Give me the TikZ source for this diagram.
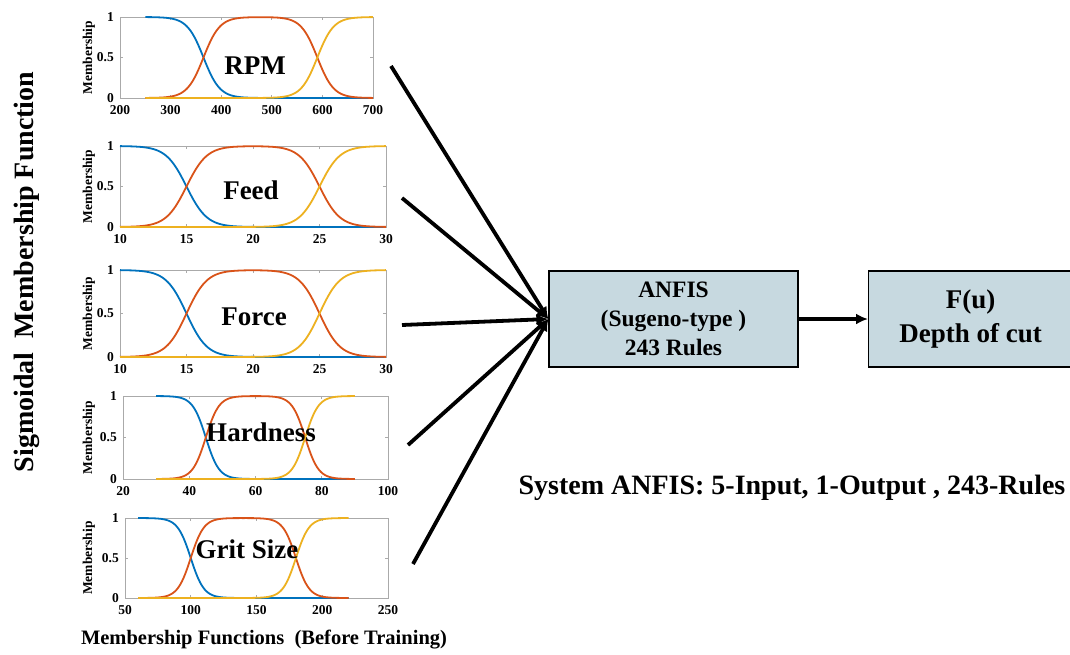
\documentclass[tikz,border=0pt]{standalone}
\usepackage{fontspec}
\setmainfont{Liberation Serif}
\usetikzlibrary{arrows.meta}
\definecolor{mfblue}{RGB}{0,114,189}
\definecolor{mfred}{RGB}{217,83,25}
\definecolor{mfyellow}{RGB}{237,177,32}
\definecolor{boxfill}{RGB}{199,217,224}
\definecolor{framegray}{RGB}{170,170,170}
\pgfmathdeclarefunction{sg}{1}{\pgfmathparse{1/(1+exp(-max(min(#1,9),-9)))}}
\newcommand\mfset[8]{\def\mfXl{#1}\def\mfXr{#2}\def\mfYt{#3}\def\mfYb{#4}\def\mfAmin{#5}\def\mfAmax{#6}\def\mfDmin{#7}\def\mfDmax{#8}}
\newcommand\mfdraw[7]{%
  % #1 c1, #2 c2, #3 slope, #4 ticks, #5 label, #6 label pos, #7 name
  \draw[mfframe] (\mfXl,\mfYt) rectangle (\mfXr,\mfYb);
  \foreach \t in {#4} {
    \pgfmathsetmacro\tx{\mfXl+(\t-\mfAmin)/(\mfAmax-\mfAmin)*(\mfXr-\mfXl)}
    \draw[mfframe] (\tx,\mfYb) -- ++(0,-3);
    \draw[mfframe] (\tx,\mfYt) -- ++(0,3);
    \node[ticklab,anchor=north] at (\tx,\mfYb+7) {\t};
  }
  \foreach \v/\lab in {0/0,0.5/0.5,1/1} {
    \pgfmathsetmacro\ty{\mfYb-\v*(\mfYb-\mfYt)}
    \draw[mfframe] (\mfXl,\ty) -- ++(3,0);
    \draw[mfframe] (\mfXr,\ty) -- ++(-3,0);
    \node[ticklab,anchor=east] at (\mfXl-6,\ty) {\lab};
  }
  \node[memlab] at (89,{(\mfYt+\mfYb)/2}) {Membership};
  \draw[mfcurve,mfblue] plot[domain=\mfDmin:\mfDmax,samples=140]
    ({\mfXl+(\x-\mfAmin)/(\mfAmax-\mfAmin)*(\mfXr-\mfXl)},{\mfYb-(\mfYb-\mfYt)*sg(-#3*(\x-#1))});
  \draw[mfcurve,mfred] plot[domain=\mfDmin:\mfDmax,samples=140]
    ({\mfXl+(\x-\mfAmin)/(\mfAmax-\mfAmin)*(\mfXr-\mfXl)},{\mfYb-(\mfYb-\mfYt)*sg(#3*(\x-#1))*sg(-#3*(\x-#2))});
  \draw[mfcurve,mfyellow] plot[domain=\mfDmin:\mfDmax,samples=140]
    ({\mfXl+(\x-\mfAmin)/(\mfAmax-\mfAmin)*(\mfXr-\mfXl)},{\mfYb-(\mfYb-\mfYt)*sg(#3*(\x-#2))});
  \node[plotlab] (#7) at #6 {#5};
}
\begin{document}
\begin{tikzpicture}[x=1pt,y=-1pt,
  mfframe/.style={draw=framegray,line width=0.7pt},
  mfcurve/.style={line width=1.8pt},
  ticklab/.style={font=\fontsize{13.5}{14}\selectfont\bfseries,inner sep=0pt},
  memlab/.style={font=\fontsize{13.5}{14}\selectfont\bfseries,rotate=90,inner sep=0pt},
  plotlab/.style={font=\fontsize{27}{30}\selectfont\bfseries,inner sep=0pt},
  blockbox/.style={draw=black,line width=1.3pt,fill=boxfill,align=center,
    font=\fontsize{23.5}{29}\selectfont\bfseries},
  conn/.style={line width=3.8pt,-{Latex[length=12pt,width=11pt]}},
  bigtext/.style={font=\bfseries,inner sep=0pt}]
\useasboundingbox (0,0) rectangle (1070,654);
\fill[white] (0,0) rectangle (1070,654);

% plots
\mfset{120}{373}{17}{98}{200}{700}{250}{700}
\mfdraw{365}{590}{0.062}{200,300,400,500,600,700}{RPM}{(255,66)}{rpm}
\mfset{120}{386}{146}{227}{10}{30}{10}{30}
\mfdraw{15}{25}{1.3}{10,15,20,25,30}{Feed}{(251,190)}{feed}
\mfset{120}{386}{270}{357}{10}{30}{10}{30}
\mfdraw{15}{25}{1.3}{10,15,20,25,30}{Force}{(254,317)}{force}
\mfset{123}{388}{396}{479}{20}{100}{30}{90}
\mfdraw{45}{75}{0.5}{20,40,60,80,100}{Hardness}{(261,432)}{hard}
\mfset{125}{388}{518}{598}{50}{250}{60}{220}
\mfdraw{100}{180}{0.2}{50,100,150,200,250}{Grit Size}{(247,549)}{grit}

% titles
\node[bigtext,font=\fontsize{28}{30}\selectfont\bfseries,rotate=90] (title) at (27,272) {Sigmoidal\ \ Membership Function};
\node[bigtext,font=\fontsize{20.5}{22}\selectfont\bfseries] (cap) at (264,640) {Membership Functions\ \ (Before Training)};
\node[bigtext,font=\fontsize{28}{30}\selectfont\bfseries] (sys) at (792,488) {System ANFIS: 5-Input, 1-Output , 243-Rules};

% blocks
\node[blockbox,minimum width=249pt,minimum height=96pt,inner sep=0pt] (anfis) at (673.5,319) {ANFIS\\(Sugeno-type )\\243 Rules};
\node[blockbox,minimum width=204pt,minimum height=96pt,inner sep=0pt,
  font=\fontsize{27}{34}\selectfont\bfseries,anchor=west] (fu) at (868,319) {F(u)\\Depth of cut};

% connectors
\coordinate (s1) at (391,66);
\coordinate (s2) at (402,198);
\coordinate (s3) at (402,325);
\coordinate (s4) at (408,445);
\coordinate (s5) at (413,564);
\foreach \s in {s1,s2,s3,s4,s5} \draw[conn] (\s) -- (anfis.west);
\draw[conn] (anfis.east) -- (fu.west);
\end{tikzpicture}
\end{document}
